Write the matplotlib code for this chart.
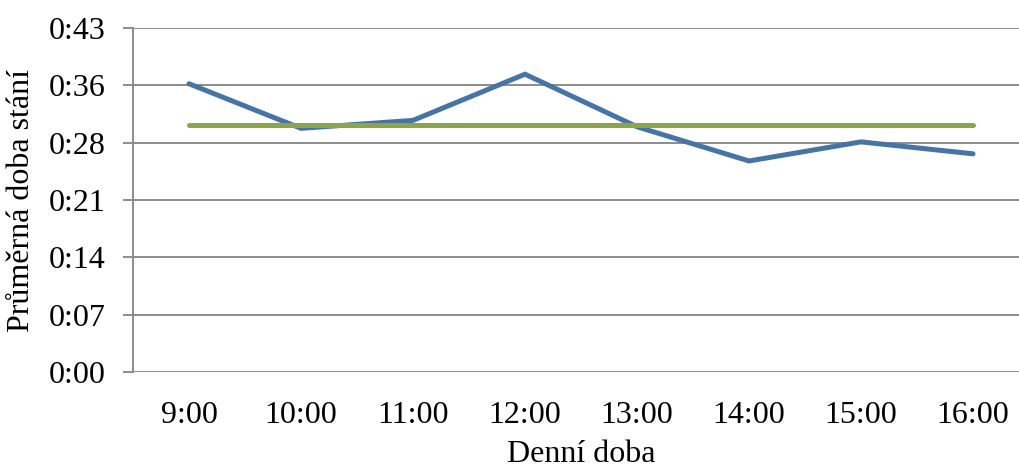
import math
import matplotlib
matplotlib.use("Agg")
import matplotlib.pyplot as plt
from matplotlib.ticker import FuncFormatter, MultipleLocator

plt.rcParams['font.family'] = ['Liberation Serif', 'DejaVu Serif']

# data (minutes)
hours = ['9:00', '10:00', '11:00', '12:00', '13:00', '14:00', '15:00', '16:00']
avg_stay = [36.2, 30.6, 31.6, 37.4, 30.8, 26.5, 28.9, 27.4]
overall_avg = [31.05, 31.05, 31.05, 31.05, 31.05, 31.05, 31.05, 31.05]

fig = plt.figure(figsize=(10.2, 4.73), dpi=100)
ax = fig.add_axes([133 / 1020, 1 - 372 / 473, (1029 - 133) / 1020, (372 - 28) / 473])

x = range(len(hours))
ax.plot(x, avg_stay, color='#4674A5', lw=3.6, solid_capstyle='round', solid_joinstyle='miter', zorder=3)
ax.plot(x, overall_avg, color='#8CA54B', lw=3.6, solid_capstyle='round', zorder=4)

ax.set_xlim(-0.5, len(hours) - 0.5)
ax.set_ylim(0, 43.2)
ax.yaxis.set_major_locator(MultipleLocator(7.2))
ax.yaxis.set_major_formatter(FuncFormatter(lambda v, p: '0:%02d' % math.floor(v + 1e-6)))
ax.set_xticks(list(x))
ax.set_xticklabels(hours)

gray = '#8C8C8C'
ax.grid(axis='y', color=gray, lw=1.4)
ax.set_axisbelow(True)
for s in ['top', 'right', 'bottom']:
    ax.spines[s].set_visible(False)
ax.spines['left'].set_color(gray)
ax.spines['left'].set_linewidth(1.4)
ax.tick_params(axis='y', length=7, width=1.4, color=gray, labelsize=23, pad=13)
ax.tick_params(axis='x', length=0, labelsize=23, pad=21)

ax.set_ylabel('Průměrná doba stání', fontsize=23, labelpad=9)
ax.set_xlabel('Denní doba', fontsize=23, labelpad=7)

fig.savefig('out.png', dpi=100)
